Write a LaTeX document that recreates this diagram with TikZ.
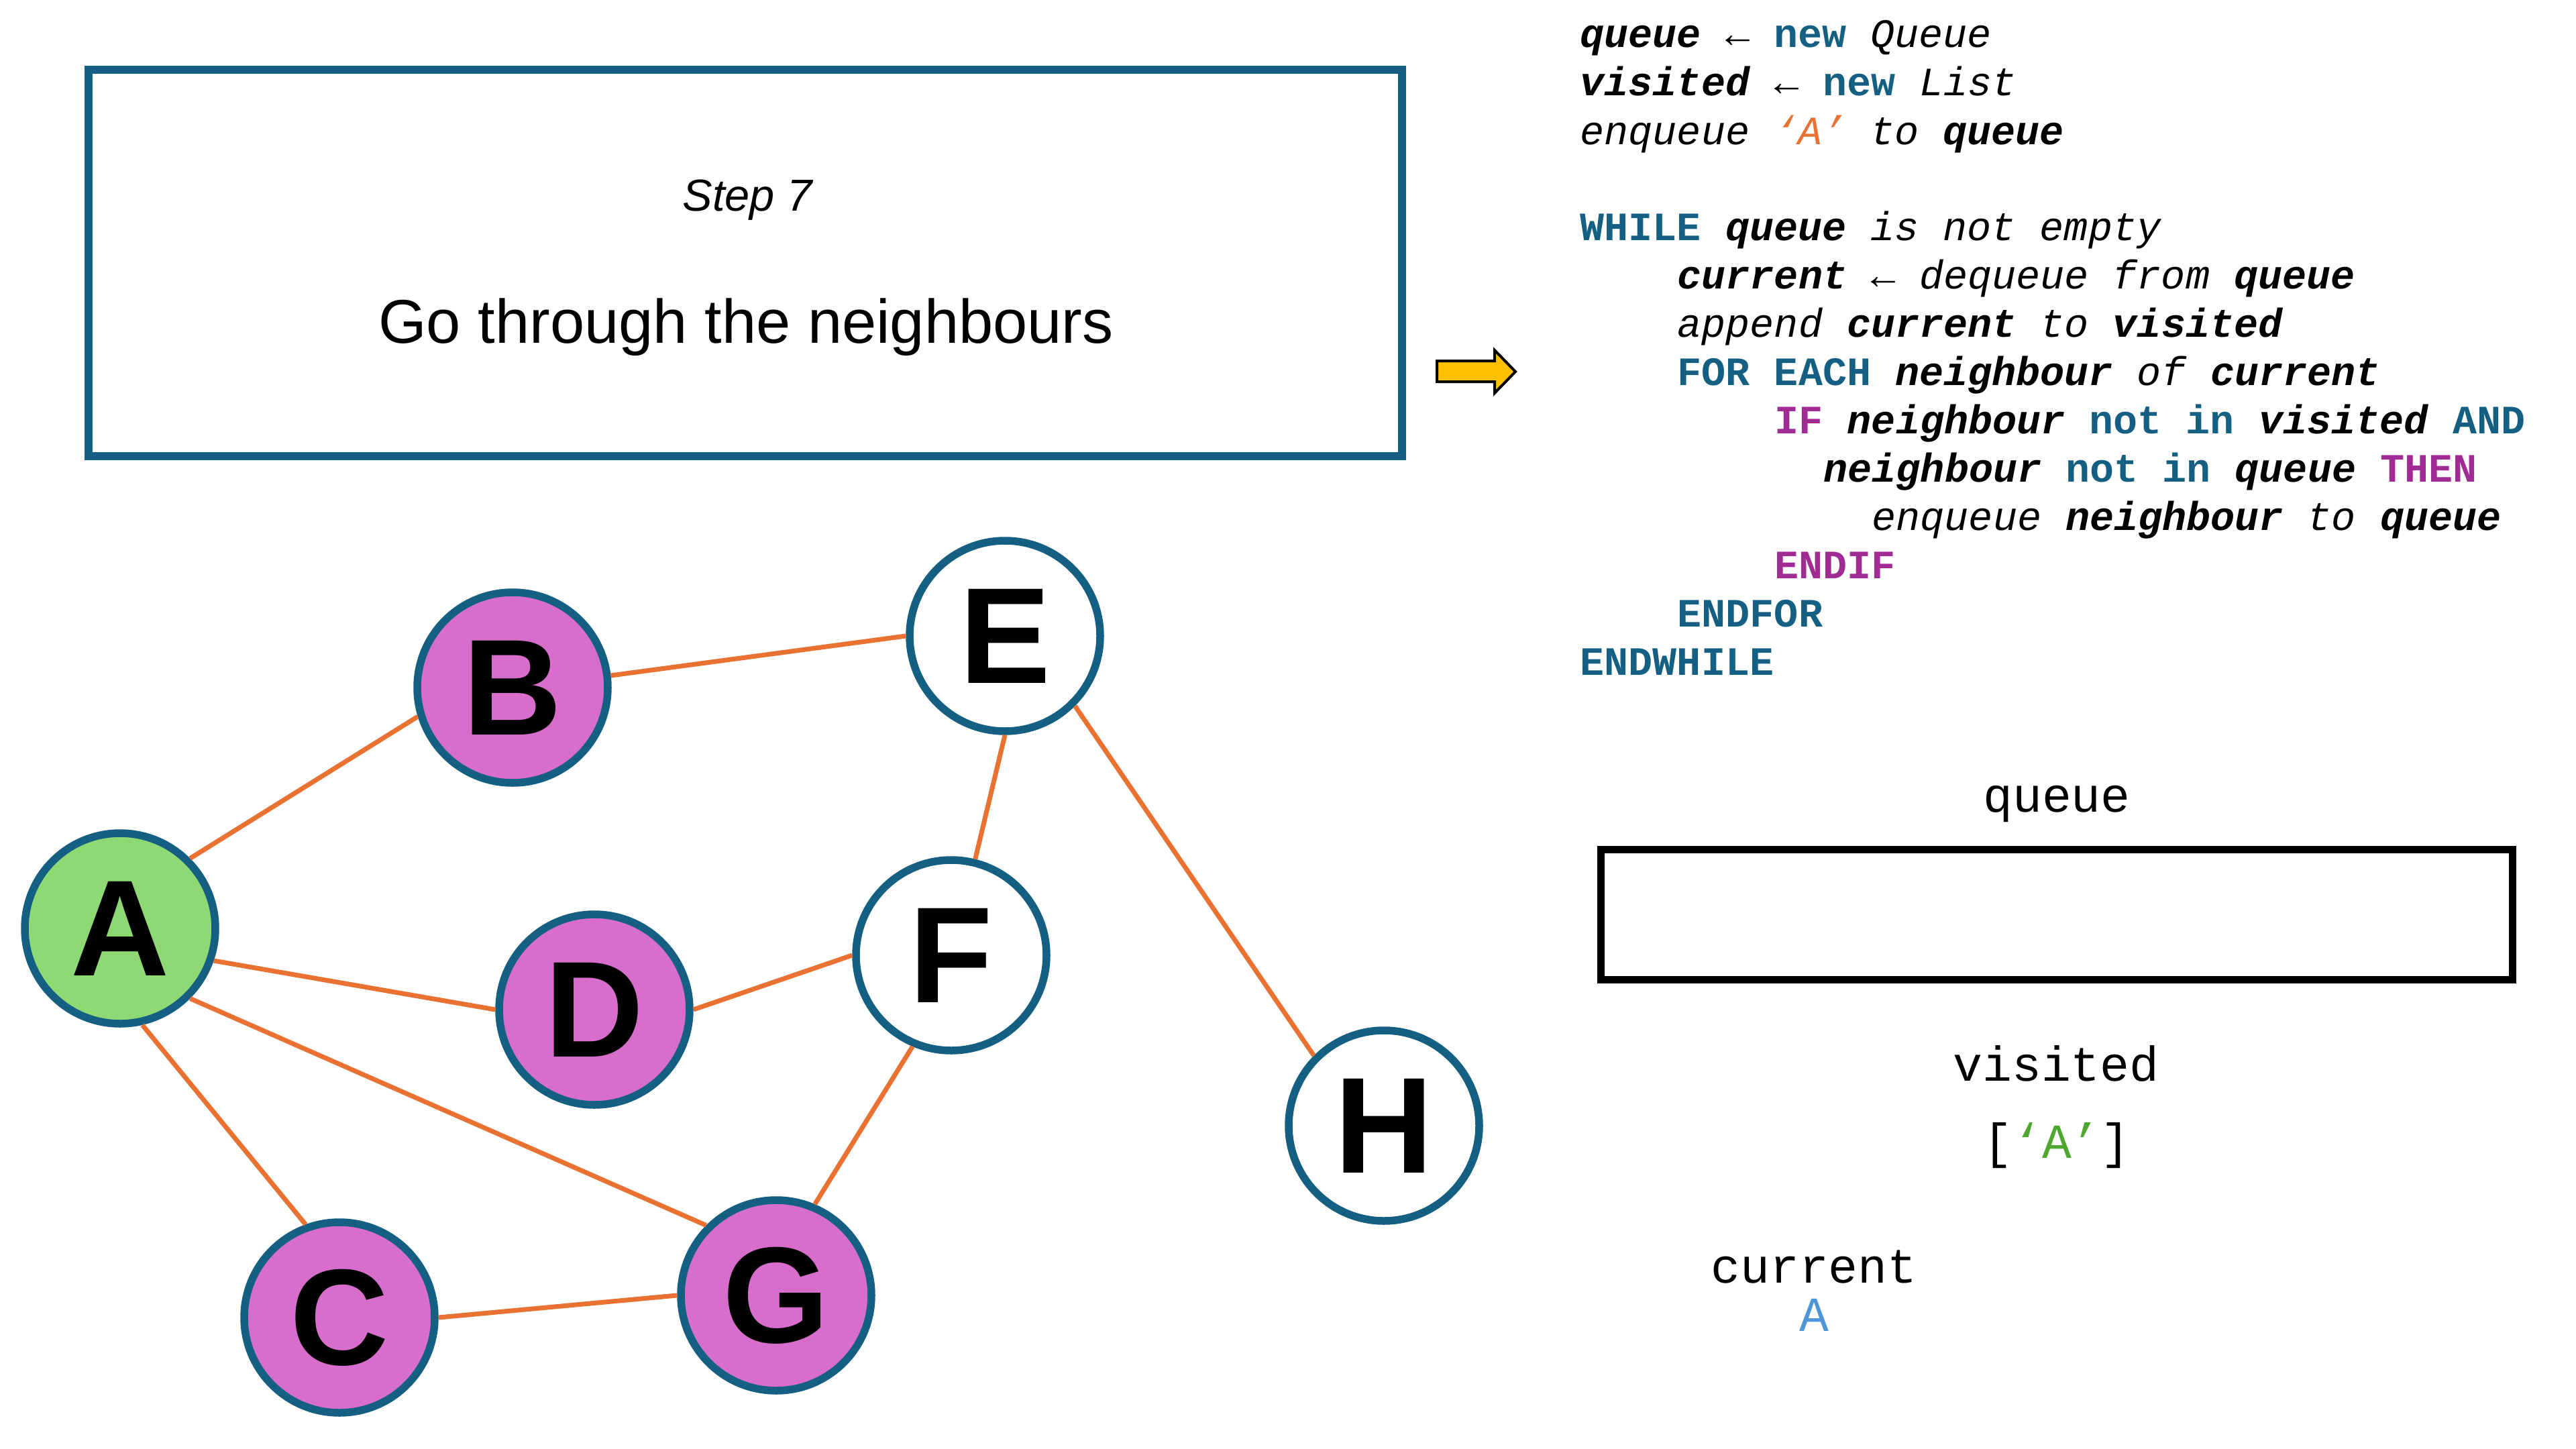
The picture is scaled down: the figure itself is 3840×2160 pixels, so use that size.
\documentclass[tikz,border=0pt]{standalone}
\usepackage{fontspec}
\setmainfont{Liberation Sans}
\setmonofont{Liberation Mono}

\definecolor{kwblue}{HTML}{156082}
\definecolor{ctlmag}{HTML}{A02B93}
\definecolor{edgeorange}{HTML}{E97132}
\definecolor{visitpink}{HTML}{D86ECC}
\definecolor{startgreen}{HTML}{8ED973}
\definecolor{listgreen}{HTML}{4EA72E}
\definecolor{curblue}{HTML}{4E95D9}
\definecolor{arrowgold}{HTML}{FFC000}

% pseudo-code formatting
\newcommand{\codekw}[1]{\textbf{\textcolor{kwblue}{#1}}}
\newcommand{\codectl}[1]{\textbf{\textcolor{ctlmag}{#1}}}
\newcommand{\codevar}[1]{\textbf{\textit{#1}}}
\newcommand{\codetxt}[1]{\textit{#1}}
\newcommand{\codearrow}{\textup{\mdseries ←}}

\begin{document}
\begin{tikzpicture}[x=0.1mm, y=-0.1mm,
  graphnode/.style={circle, draw=kwblue, line width=1.15mm, minimum size=28.4mm,
    inner sep=0pt, font=\fontsize{58}{60}\selectfont\bfseries},
  pinknode/.style={graphnode, fill=visitpink},
  greennode/.style={graphnode, fill=startgreen},
  whitenode/.style={graphnode, fill=white},
  graphedge/.style={draw=edgeorange, line width=0.7mm},
  codeline/.style={anchor=base west, inner sep=0pt,
    font=\ttfamily\fontsize{17.1}{20}\selectfont},
  panellabel/.style={anchor=base, inner sep=0pt,
    font=\ttfamily\fontsize{20.8}{24}\selectfont},
]
\useasboundingbox (0,0) rectangle (3840,2160);

% step caption box
\node[draw=kwblue, line width=1.2mm, minimum width=195.8mm, minimum height=57.6mm,
  inner sep=0pt] (stepbox) at (1111,392) {};
\node[anchor=base, inner sep=0pt, font=\fontsize{19}{22}\selectfont\itshape]
  (steptitle) at (1114,314) {Step 7};
\node[anchor=base, inner sep=0pt, font=\fontsize{26.2}{30}\selectfont]
  (stepdesc) at (1112,511) {Go through the neighbours};

% pointer to the current code line
\draw[line width=0.4mm, fill=arrowgold, line join=miter]
  (2142,538) -- (2228,538) -- (2228,522) -- (2259,554) -- (2228,586)
  -- (2228,569) -- (2142,569) -- cycle;

% breadth-first search pseudo-code
\node[codeline] (c1) at (2355,71) {\codevar{queue} \codearrow{} \codekw{new} \codetxt{Queue}};
\node[codeline] (c2) at (2355,143) {\codevar{visited} \codearrow{} \codekw{new} \codetxt{List}};
\node[codeline] (c3) at (2355,215) {\codetxt{enqueue} \textit{\textcolor{edgeorange}{‘A’}} \codetxt{to} \codevar{queue}};
\node[codeline] (c5) at (2355,358) {\codekw{WHILE} \codevar{queue} \codetxt{is not empty}};
\node[codeline] (c6) at (2500,430) {\codevar{current} \codearrow{} \codetxt{dequeue from} \codevar{queue}};
\node[codeline] (c7) at (2500,502) {\codetxt{append} \codevar{current} \codetxt{to} \codevar{visited}};
\node[codeline] (c8) at (2500,574) {\codekw{FOR EACH} \codevar{neighbour} \codetxt{of} \codevar{current}};
\node[codeline] (c9) at (2645,646) {\codectl{IF} \codevar{neighbour} \codekw{not in} \codevar{visited} \codekw{AND}};
\node[codeline] (c10) at (2718,718) {\codevar{neighbour} \codekw{not in} \codevar{queue} \codectl{THEN}};
\node[codeline] (c11) at (2790,790) {\codetxt{enqueue} \codevar{neighbour} \codetxt{to} \codevar{queue}};
\node[codeline] (c12) at (2645,862) {\codectl{ENDIF}};
\node[codeline] (c13) at (2500,934) {\codekw{ENDFOR}};
\node[codeline] (c14) at (2355,1006) {\codekw{ENDWHILE}};

% state of the data structures
\node[panellabel] (queuelabel) at (3066,1210) {queue};
\node[draw=black, line width=1.1mm, minimum width=135.9mm, minimum height=19.4mm,
  inner sep=0pt] (queuebox) at (3066,1363) {};
\node[panellabel] (visitedlabel) at (3065,1611) {visited};
\node[panellabel] (visitedlist) at (3066,1726) {[\textcolor{listgreen}{‘A’}]};
\node[panellabel] (currentlabel) at (2704,1912) {current};
\node[panellabel] (currentvalue) at (2704,1984) {\textcolor{curblue}{A}};

% graph
\node[greennode] (A) at (179,1384) {A};
\node[pinknode]  (B) at (764,1025) {B};
\node[pinknode]  (C) at (506,1964) {C};
\node[pinknode]  (D) at (886,1505) {D};
\node[whitenode] (E) at (1498,948) {E};
\node[whitenode] (F) at (1418,1424) {F};
\node[pinknode]  (G) at (1157,1931) {G};
\node[whitenode] (H) at (2063,1678) {H};

\draw[graphedge] (A.45) -- (B.197);
\draw[graphedge] (B.7) -- (E.180);
\draw[graphedge] (E.270) -- (F.76);
\draw[graphedge] (E.315) -- (H.135);
\draw[graphedge] (A.341) -- (D.180);
\draw[graphedge] (D.0) -- (F.180);
\draw[graphedge] (A.315) -- (G.135);
\draw[graphedge] (A.283) -- (C.110);
\draw[graphedge] (C.0) -- (G.180);
\draw[graphedge] (F.247) -- (G.67);
\end{tikzpicture}
\end{document}
